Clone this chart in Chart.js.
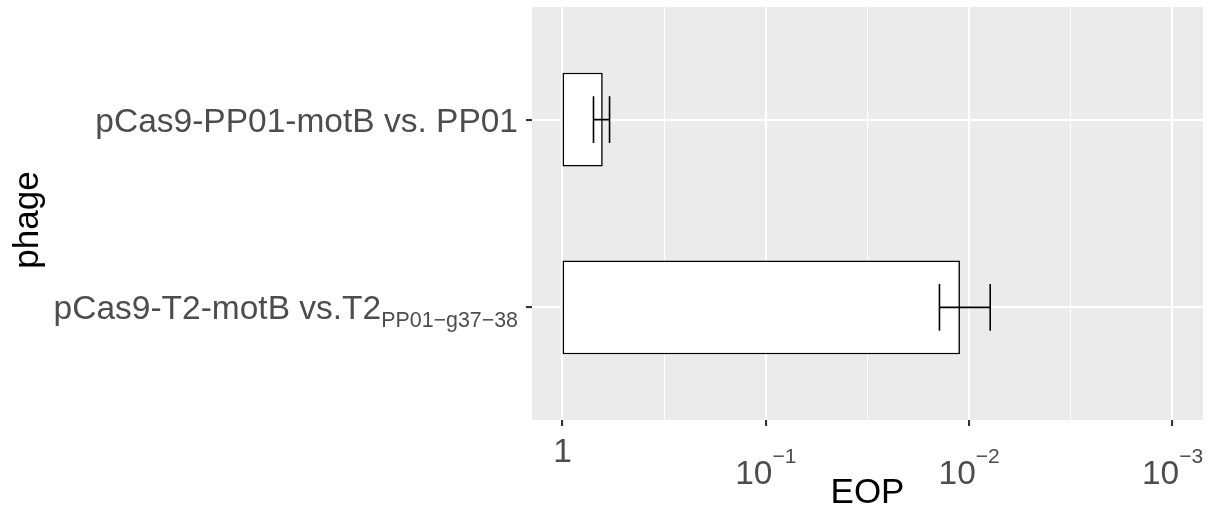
<!DOCTYPE html>
<html><head><meta charset="utf-8">
<script src="https://cdn.jsdelivr.net/npm/chart.js@4"></script>
<style>html,body{margin:0;padding:0;background:#fff}#wrap{width:1213px;height:517px}</style>
</head><body><div id="wrap"><canvas id="c" width="1213" height="517"></canvas></div>
<script>
// ---- data ----
const categories = ['pCas9-PP01-motB vs. PP01', 'pCas9-T2-motB vs.T2'];
const categorySubscripts = ['', 'PP01\u2212g37\u221238'];
const eopValues = [0.634, 0.0111];
const eopErrUpper = [0.704, 0.0140];
const eopErrLower = [0.587, 0.00788];
const xTickValues = [1, 0.1, 0.01, 0.001];
const xTickBase = ['1', '10', '10', '10'];
const xTickExp = ['', '\u22121', '\u22122', '\u22123'];
const xAxisTitle = 'EOP';
const yAxisTitle = 'phage';

// ---- style ----
const FONT = '"Liberation Sans", Arial, sans-serif';
const TICK_SIZE = 33.5, SUP_SIZE = 21, SUB_SIZE = 21.4, TITLE_SIZE = 35;
const xMin = Math.pow(10, -3.15), xMax = Math.pow(10, 0.15);
const minorTicks = [];
for (let i = 0; i < xTickValues.length - 1; i++) minorTicks.push(Math.sqrt(xTickValues[i] * xTickValues[i + 1]));
const isMajor = v => xTickValues.some(t => Math.abs(Math.log10(t) - Math.log10(v)) < 1e-6);

const bgPlugin = {
  id: 'bg',
  beforeDraw(chart) {
    const {ctx, chartArea: a} = chart;
    ctx.save();
    ctx.fillStyle = '#fff';
    ctx.fillRect(0, 0, chart.width, chart.height);
    ctx.fillStyle = '#EBEBEB';
    ctx.fillRect(a.left, a.top, a.right - a.left, a.bottom - a.top);
    ctx.restore();
  }
};

const errPlugin = {
  id: 'err',
  afterDatasetsDraw(chart) {
    const {ctx} = chart;
    const xs = chart.scales.x, ys = chart.scales.y;
    ctx.save();
    ctx.strokeStyle = '#000';
    ctx.lineWidth = 1.6;
    categories.forEach((c, i) => {
      const yc = ys.getPixelForValue(i + 1);
      const y0 = ys.getPixelForValue(i + 1 - 0.125);
      const y1 = ys.getPixelForValue(i + 1 + 0.125);
      const xa = xs.getPixelForValue(eopErrUpper[i]);
      const xb = xs.getPixelForValue(eopErrLower[i]);
      ctx.beginPath();
      ctx.moveTo(xa, yc); ctx.lineTo(xb, yc);
      ctx.moveTo(xa, y0); ctx.lineTo(xa, y1);
      ctx.moveTo(xb, y0); ctx.lineTo(xb, y1);
      ctx.stroke();
    });
    ctx.restore();
  }
};

const labelPlugin = {
  id: 'labels',
  afterDraw(chart) {
    const {ctx, chartArea: a} = chart;
    const xs = chart.scales.x, ys = chart.scales.y;
    ctx.save();
    ctx.fillStyle = '#4D4D4D';
    ctx.textBaseline = 'alphabetic';
    // x tick labels
    xTickValues.forEach((v, i) => {
      const px = xs.getPixelForValue(v);
      ctx.font = TICK_SIZE + 'px ' + FONT;
      if (!xTickExp[i]) {
        ctx.textAlign = 'center';
        ctx.fillText(xTickBase[i], px, 462);
      } else {
        const w1 = ctx.measureText(xTickBase[i]).width;
        ctx.font = SUP_SIZE + 'px ' + FONT;
        const w2 = ctx.measureText(xTickExp[i]).width;
        const start = px - (w1 + w2) / 2;
        ctx.textAlign = 'left';
        ctx.font = TICK_SIZE + 'px ' + FONT;
        ctx.fillText(xTickBase[i], start, 484);
        ctx.font = SUP_SIZE + 'px ' + FONT;
        ctx.fillText(xTickExp[i], start + w1, 463);
      }
    });
    // y tick labels
    const rightX = a.left - 14;
    categories.forEach((c, i) => {
      const py = ys.getPixelForValue(i + 1);
      ctx.textAlign = 'right';
      let x = rightX;
      if (categorySubscripts[i]) {
        ctx.font = SUB_SIZE + 'px ' + FONT;
        const ws = ctx.measureText(categorySubscripts[i]).width;
        ctx.fillText(categorySubscripts[i], x, py + 20);
        x -= ws;
      }
      ctx.font = TICK_SIZE + 'px ' + FONT;
      ctx.fillText(c, x, py + 12);
    });
    // titles
    ctx.fillStyle = '#000';
    ctx.font = TITLE_SIZE + 'px ' + FONT;
    ctx.textAlign = 'center';
    ctx.fillText(xAxisTitle, (a.left + a.right) / 2, 503);
    ctx.save();
    ctx.translate(38, 220);
    ctx.rotate(-Math.PI / 2);
    ctx.fillText(yAxisTitle, 0, 0);
    ctx.restore();
    ctx.restore();
  }
};

new Chart(document.getElementById('c'), {
  type: 'bar',
  data: {
    datasets: [{
      data: categories.map((c, i) => ({x: [1, eopValues[i]], y: i + 1})),
      backgroundColor: '#FFFFFF',
      borderColor: '#000000',
      borderWidth: 1.6,
      borderSkipped: false,
      barPercentage: 0.5,
      categoryPercentage: 1.0
    }]
  },
  options: {
    indexAxis: 'y',
    responsive: false,
    animation: false,
    devicePixelRatio: 1,
    layout: {padding: {top: 7, right: 10, left: 0, bottom: 0}},
    plugins: {legend: {display: false}, tooltip: {enabled: false}},
    scales: {
      x: {
        type: 'logarithmic',
        reverse: true,
        min: xMin,
        max: xMax,
        offset: false,
        afterBuildTicks: s => { s.ticks = xTickValues.concat(minorTicks).sort((p, q) => q - p).map(v => ({value: v})); },
        afterFit: s => { s.height = 97; },
        ticks: {display: false},
        border: {display: false},
        grid: {
          offset: false,
          color: '#FFFFFF',
          lineWidth: c => (c.tick && isMajor(c.tick.value)) ? 2.1 : 1.05,
          drawTicks: true,
          tickLength: 6,
          tickColor: c => (c.tick && isMajor(c.tick.value)) ? '#333333' : 'rgba(0,0,0,0)',
          tickWidth: 2.1
        }
      },
      y: {
        type: 'linear',
        reverse: true,
        min: 0.4,
        max: 2.6,
        offset: false,
        afterBuildTicks: s => { s.ticks = categories.map((c, i) => ({value: i + 1})); },
        afterFit: s => { s.width = 532; },
        ticks: {display: false},
        border: {display: false},
        grid: {
          offset: false,
          color: '#FFFFFF',
          lineWidth: 2.1,
          drawTicks: true,
          tickLength: 6,
          tickColor: '#333333',
          tickWidth: 2.1
        }
      }
    }
  },
  plugins: [bgPlugin, errPlugin, labelPlugin]
});
</script></body></html>
